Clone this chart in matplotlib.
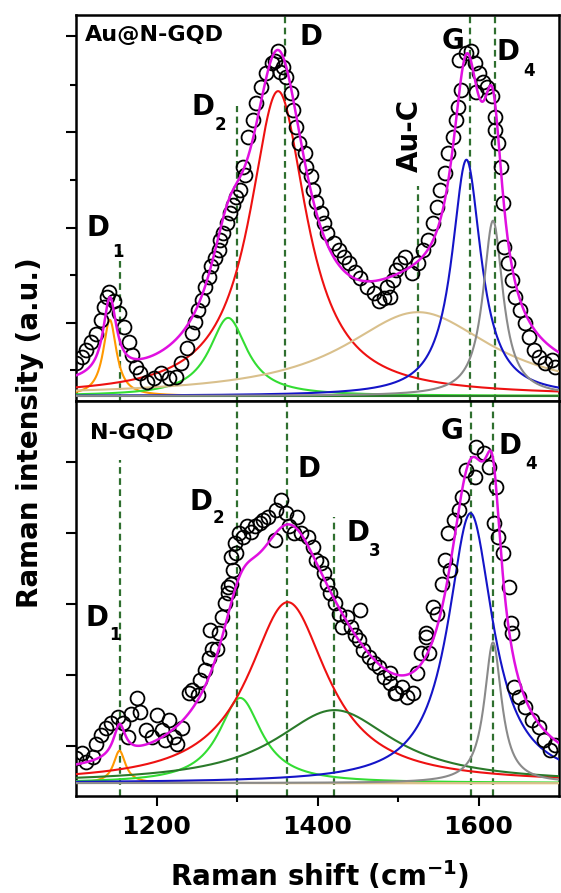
import numpy as np
import matplotlib
matplotlib.use("Agg")
import matplotlib.pyplot as plt
from matplotlib.ticker import FixedLocator, NullFormatter

plt.rcParams["font.family"] = "DejaVu Sans"
plt.rcParams["font.weight"] = "bold"

# ---- Au@N-GQD (top panel): measured spectrum ----
top_shift = [1100.5, 1107, 1113, 1119, 1125, 1131, 1135, 1139, 1141, 1147, 1154, 1160,
             1166, 1170, 1174, 1180, 1188, 1197, 1205, 1215, 1224, 1231, 1238, 1244,
             1248, 1252, 1256, 1260, 1265, 1268, 1273, 1277, 1279, 1283, 1287, 1291,
             1295, 1299, 1304, 1308, 1310, 1314, 1320, 1324, 1330, 1336, 1343, 1347,
             1351, 1353, 1357, 1361, 1367, 1369, 1373, 1377, 1384, 1386, 1392, 1394,
             1398, 1404, 1408, 1412, 1421, 1427, 1433, 1439, 1447, 1453, 1462, 1470,
             1476, 1482, 1486, 1490, 1494, 1498, 1503, 1509, 1517, 1525, 1531, 1537,
             1544, 1548, 1552, 1558, 1562, 1568, 1572, 1574, 1576, 1578, 1585, 1591,
             1595, 1597, 1601, 1605, 1611, 1617, 1620, 1621, 1624, 1628, 1630, 1632,
             1637, 1641, 1645, 1652, 1658, 1663, 1669, 1675, 1683, 1691, 1695]
top_int = [8.6, 10.3, 12.0, 14.3, 16.4, 20.0, 23.4, 26.1, 27.4, 25.0, 21.7, 18.0,
           14.3, 10.8, 7.7, 6.0, 3.8, 4.7, 6.0, 4.7, 5.0, 8.6, 12.6, 16.5,
           19.5, 22.6, 25.2, 28.7, 31.3, 34.0, 36.2, 38.3, 41.0, 42.7, 45.4, 48.0,
           50.1, 52.3, 54.0, 60.2, 58.0, 68.0, 72.4, 76.9, 81.2, 84.7, 87.3, 88.0,
           90.4, 85.0, 86.4, 83.8, 79.4, 75.0, 70.7, 66.3, 63.7, 60.2, 57.6, 54.0,
           51.0, 48.0, 45.3, 42.7, 40.1, 38.3, 36.6, 34.8, 32.6, 30.9, 28.7, 27.0,
           24.8, 25.6, 28.7, 26.1, 30.4, 33.0, 34.8, 36.6, 32.2, 34.8, 38.3, 41.0,
           45.3, 49.7, 54.0, 58.4, 63.7, 68.0, 72.4, 75.9, 88.2, 80.3, 90.0, 90.4,
           87.3, 79.9, 84.7, 82.5, 81.2, 78.6, 73.3, 69.8, 66.3, 60.2, 50.6, 39.2,
           34.8, 30.4, 26.1, 22.6, 19.1, 15.6, 12.1, 10.3, 8.6, 9.4, 7.7]

# ---- N-GQD (bottom panel): measured spectrum ----
bot_shift = [1100.5, 1107, 1113, 1121, 1125, 1131, 1137, 1144, 1152, 1158, 1164, 1168,
             1176, 1180, 1187, 1195, 1201, 1207, 1211, 1215, 1222, 1226, 1232, 1240,
             1244, 1252, 1254, 1260, 1265, 1267, 1269, 1275, 1277, 1281, 1285, 1289,
             1289, 1293, 1293, 1295, 1297, 1299, 1302, 1308, 1312, 1317, 1322, 1328,
             1332, 1338, 1347, 1349, 1355, 1361, 1365, 1371, 1375, 1379, 1388, 1394,
             1398, 1404, 1408, 1412, 1416, 1422, 1427, 1431, 1437, 1441, 1446, 1451,
             1453, 1457, 1464, 1470, 1476, 1482, 1490, 1490, 1496, 1498, 1505, 1511,
             1519, 1523, 1529, 1535, 1535, 1539, 1544, 1548, 1554, 1558, 1562, 1564,
             1570, 1576, 1580, 1585, 1595, 1597, 1607, 1613, 1619, 1622, 1624, 1630,
             1638, 1640, 1642, 1644, 1650, 1658, 1667, 1675, 1681, 1689, 1695]
bot_int = [6.5, 7.8, 5.6, 6.9, 10.4, 12.6, 14.4, 15.7, 17.4, 15.7, 12.2, 18.3,
           22.3, 18.8, 13.9, 12.2, 17.9, 13.9, 11.3, 16.6, 12.2, 10.4, 14.4, 23.6,
           24.5, 23.2, 27.1, 29.7, 32.8, 40.3, 35.4, 35.4, 39.4, 43.8, 47.3, 49.9,
           51.7, 52.5, 59.6, 56.0, 63.1, 60.4, 65.7, 64.8, 67.5, 66.0, 67.5, 68.3,
           69.2, 70.1, 63.9, 71.8, 74.5, 71.0, 67.5, 65.7, 70.1, 65.7, 64.8, 62.2,
           58.7, 57.8, 55.2, 52.5, 49.9, 47.3, 44.6, 41.1, 43.8, 41.1, 39.0, 37.6,
           45.5, 35.0, 33.2, 31.5, 30.6, 28.0, 26.2, 28.9, 23.6, 23.6, 25.3, 22.7,
           23.6, 28.9, 34.1, 38.5, 39.4, 34.1, 46.4, 44.6, 52.5, 58.7, 65.7, 56.0,
           69.2, 71.8, 75.3, 82.4, 80.6, 88.5, 86.8, 83.2, 68.3, 78.0, 64.8, 60.4,
           51.7, 42.0, 39.4, 25.3, 22.7, 20.1, 16.6, 14.8, 11.3, 8.7, 10.0]

# ---- Lorentzian fit components ----
peak_names = ["D1", "D2", "D", "D3", "Au-C", "G", "D4"]
top_center = [1142, 1289, 1351, 1420, 1525, 1585, 1618]
top_height = [20.0, 20.5, 80.0, 0.0, 22.0, 62.0, 46.0]
top_fwhm = [20, 57, 86, 150, 225, 44, 30]
bot_center = [1154, 1304, 1363, 1421, 1525, 1590, 1618]
bot_height = [8.5, 22.4, 47.6, 19.2, 0.0, 71.0, 37.0]
bot_fwhm = [18, 65, 120, 180, 225, 68, 26]
peak_colors = ["#FF9900", "#33DD33", "#EE1111", "#2A7A2A", "#D9C08C", "#1414C8", "#8A8A8A"]

# band positions marked with dashed lines (upper end None = full height)
top_marks = [1155, 1300, 1360, 1525, 1590, 1620]
top_mark_ends = [38, 76, None, 55, None, None]
bot_marks = [1155, 1300, 1362, 1420, 1591, 1618]
bot_mark_ends = [85, None, None, 70, None, None]


def lorentz(x, c, h, fwhm):
    hw = fwhm / 2.0
    return h / (1.0 + ((x - c) / hw) ** 2)


def draw_panel(ax, shift, inten, centers, heights, fwhms, marks, mark_ends, ylim):
    x = np.linspace(1100, 1700, 1201)
    ax.set_xlim(1100, 1700)
    ax.set_ylim(*ylim)
    for xm, ye in zip(marks, mark_ends):
        top = ylim[1] if ye is None else ye
        ax.plot([xm, xm], [ylim[0], top], color="#2F6F2F", lw=1.6,
                linestyle=(0, (3, 2)), zorder=2)
    total = np.zeros_like(x)
    for c, h, w, col in zip(centers, heights, fwhms, peak_colors):
        y = lorentz(x, c, h, w)
        total += y
        ax.plot(x, y, color=col, lw=1.5, zorder=3)
    ax.plot(shift, inten, "o", mfc="none", mec="black", ms=10, mew=1.3, zorder=4)
    ax.plot(x, total, color="#E010E0", lw=1.8, zorder=5)


fig = plt.figure(figsize=(5.61, 8.93), dpi=100)
ax1 = fig.add_axes([0.1355, 0.5510, 0.861, 0.4323])
ax2 = fig.add_axes([0.1355, 0.1086, 0.861, 0.4423])

draw_panel(ax1, top_shift, top_int, top_center, top_height, top_fwhm,
           top_marks, top_mark_ends, (-1.3, 100))
draw_panel(ax2, bot_shift, bot_int, bot_center, bot_height, bot_fwhm,
           bot_marks, bot_mark_ends, (-3.4, 100.5))

for ax in (ax1, ax2):
    for sp in ax.spines.values():
        sp.set_linewidth(1.8)
    ax.xaxis.set_major_locator(FixedLocator([1200, 1400, 1600]))
    ax.xaxis.set_minor_locator(FixedLocator([1300, 1500]))
    ax.tick_params(axis="both", which="major", direction="out", length=7.5, width=1.5)
    ax.tick_params(axis="both", which="minor", direction="out", length=4.5, width=1.5)
    ax.tick_params(top=False, right=False, which="both")
    ax.yaxis.set_major_formatter(NullFormatter())

ax1.yaxis.set_major_locator(FixedLocator([19.2, 44.1, 69.3, 94.5]))
ax1.yaxis.set_minor_locator(FixedLocator([6.8, 31.8, 56.7, 81.6]))
ax1.xaxis.set_major_formatter(NullFormatter())
ax2.yaxis.set_major_locator(FixedLocator([9.7, 28.4, 47.1, 65.8, 84.5]))
ax2.yaxis.set_minor_locator(FixedLocator([]))
ax2.tick_params(axis="x", which="major", labelsize=18, pad=6)

# ---- panel and band labels ----
ax1.text(1111, 94.8, "Au@N-GQD", fontsize=16, fontweight="bold", ha="left", va="center")
ax2.text(1117, 92.2, "N-GQD", fontsize=16, fontweight="bold", ha="left", va="center")

lab = dict(fontsize=20, fontweight="bold", ha="center", va="center", zorder=6)
sub = dict(fontsize=12, fontweight="bold", ha="center", va="center", zorder=6)

ax1.text(1127, 44.1, "D", **lab)
ax1.text(1152, 37.8, "1", **sub)
ax1.text(1258, 75.9, "D", **lab)
ax1.text(1279, 71.1, "2", **sub)
ax1.text(1392, 94.2, "D", **lab)
ax1.text(1515, 68.5, "Au-C", rotation=90, **lab)
ax1.text(1568, 93.2, "G", **lab)
ax1.text(1636, 90.2, "D", **lab)
ax1.text(1663, 85.3, "4", **sub)

ax2.text(1126, 43.3, "D", **lab)
ax2.text(1148, 39.0, "1", **sub)
ax2.text(1255, 74.0, "D", **lab)
ax2.text(1277, 69.7, "2", **sub)
ax2.text(1389, 82.6, "D", **lab)
ax2.text(1450, 65.9, "D", **lab)
ax2.text(1471, 61.0, "3", **sub)
ax2.text(1567, 92.5, "G", **lab)
ax2.text(1639, 88.7, "D", **lab)
ax2.text(1665, 84.0, "4", **sub)

fig.text(30 / 561, 1 - 433 / 893, "Raman intensity (a.u.)", rotation=90,
         fontsize=20, fontweight="bold", ha="center", va="center")
fig.text(320 / 561, 1 - 876 / 893, r"Raman shift (cm$^{\mathbf{-1}}$)",
         fontsize=20, fontweight="bold", ha="center", va="center")

fig.savefig("out.png", dpi=100)
plt.close(fig)
